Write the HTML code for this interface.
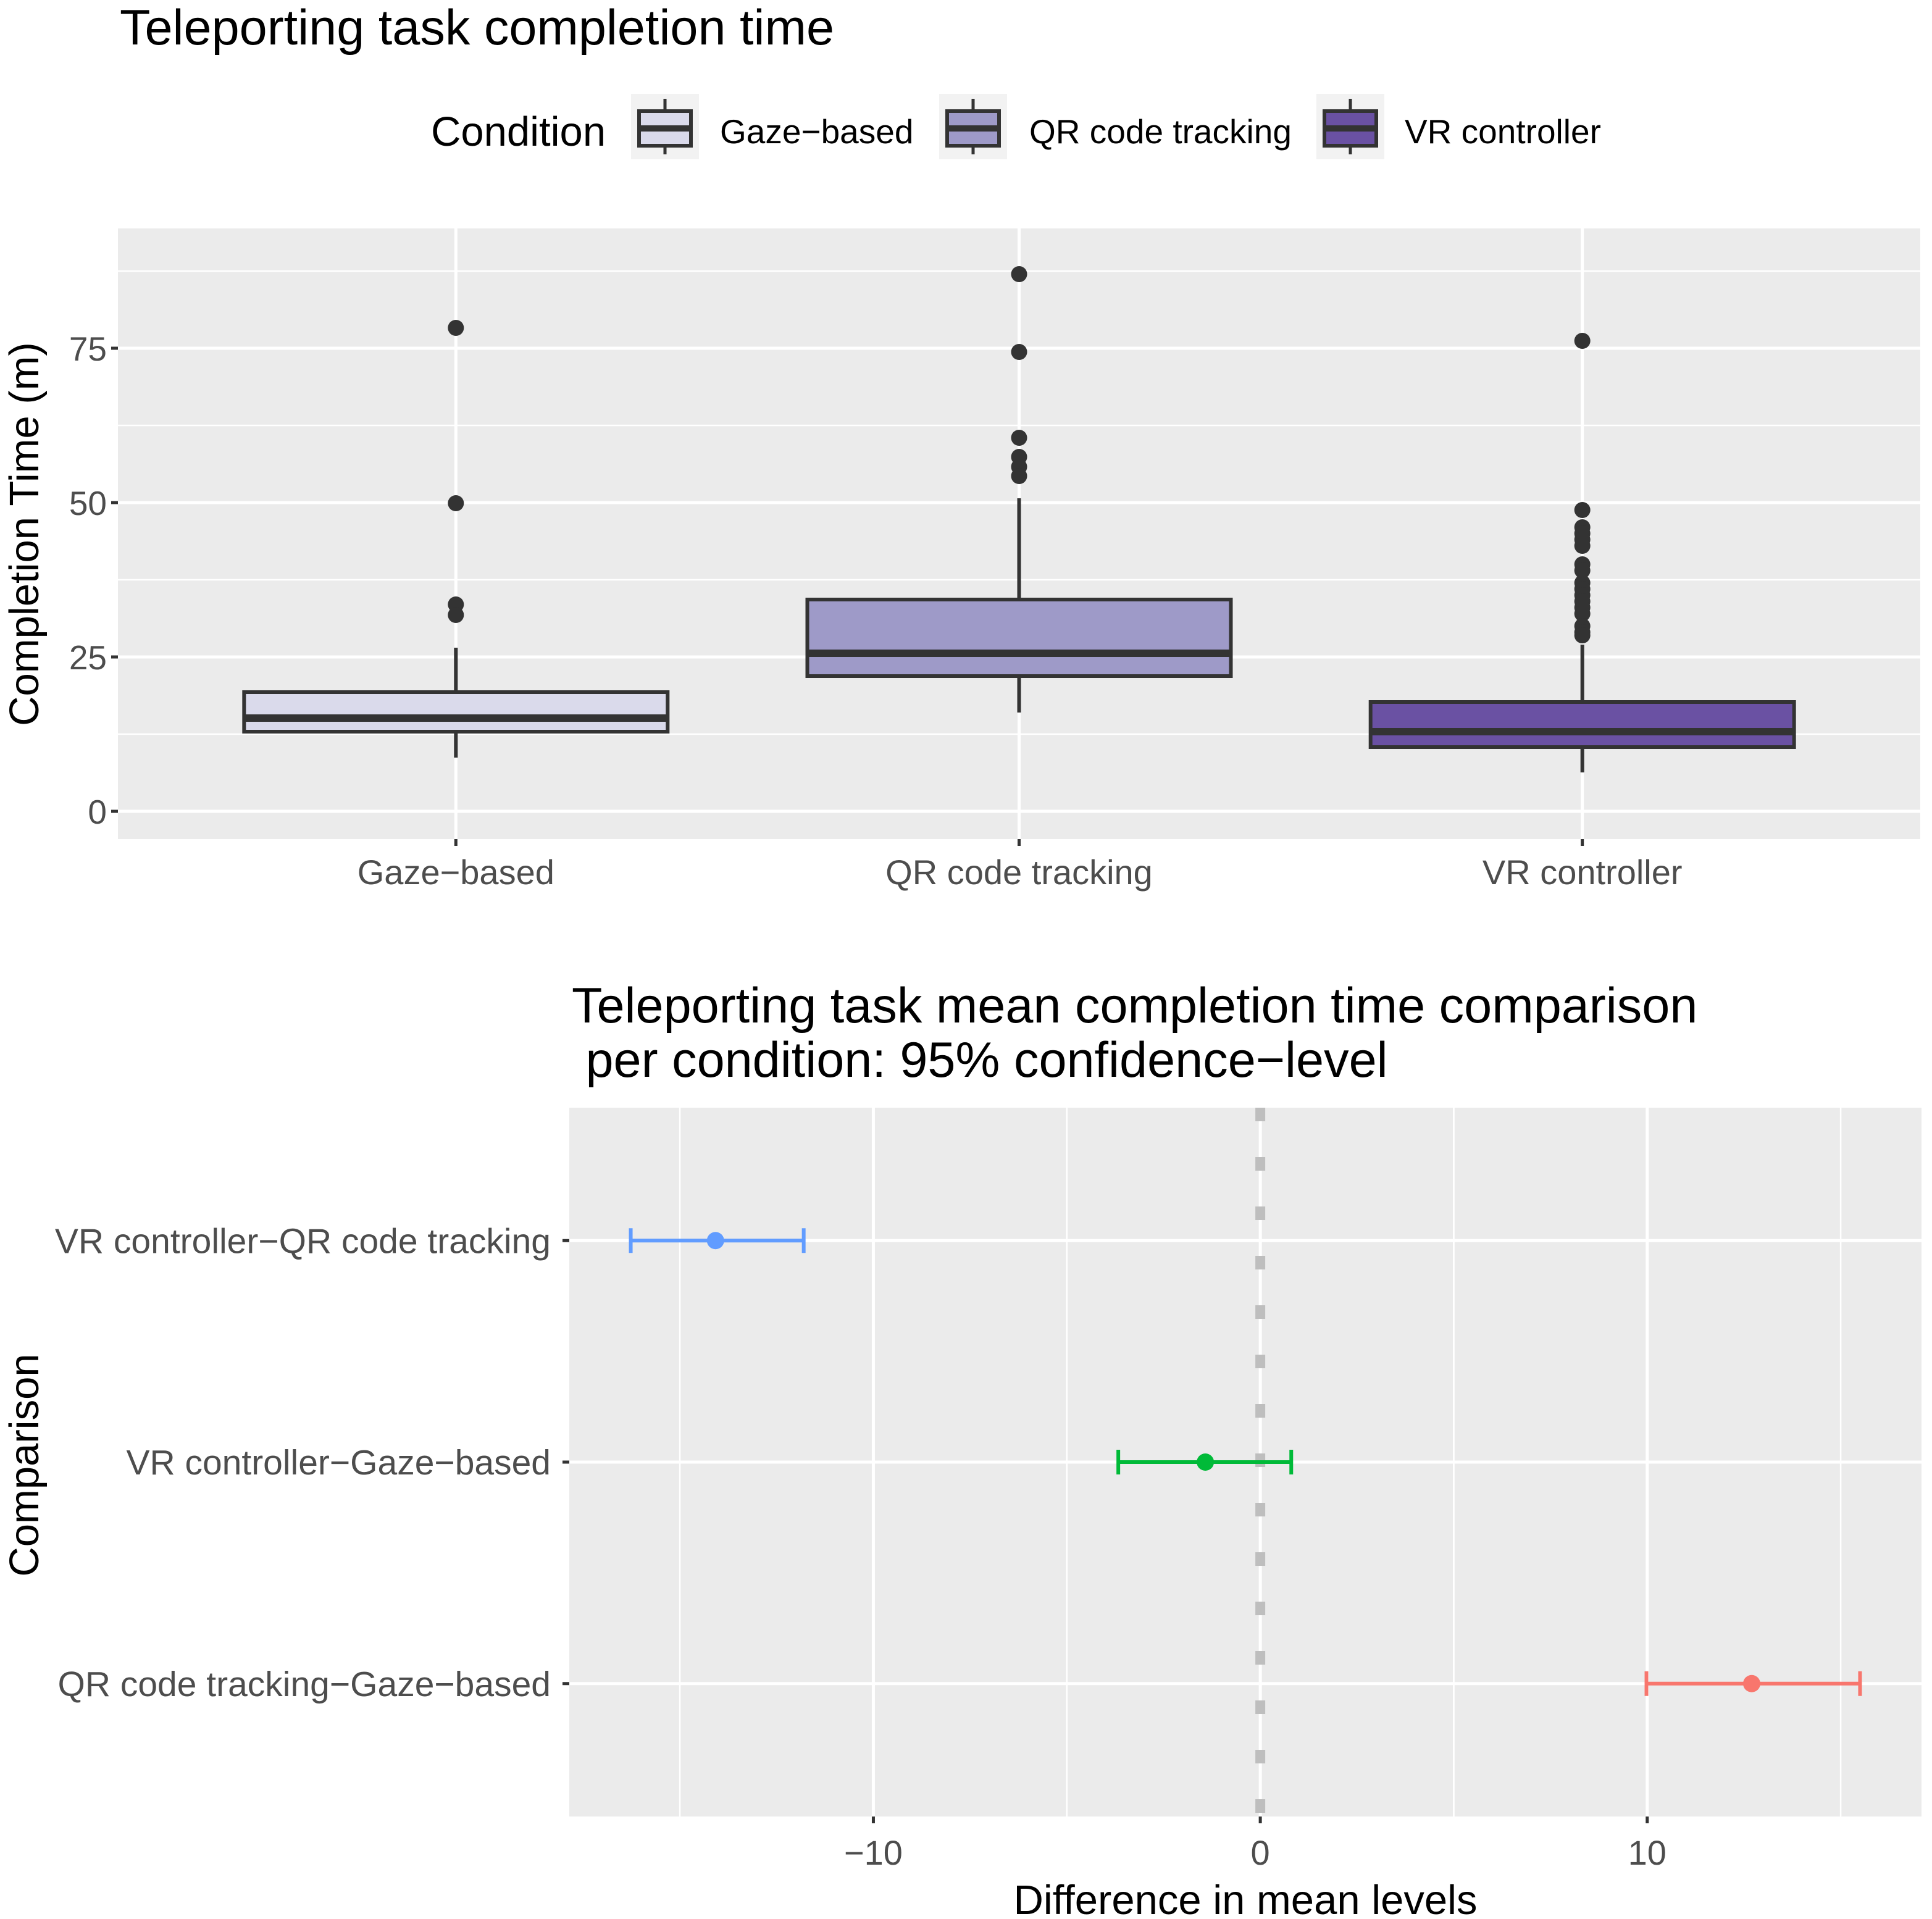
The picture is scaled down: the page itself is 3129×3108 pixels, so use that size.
<!DOCTYPE html>
<html><head><meta charset="utf-8"><style>
html,body{margin:0;padding:0;background:#fff;}
svg{display:block;font-family:"Liberation Sans",Arial,sans-serif;}
</style></head><body>
<svg id="chart" width="3129" height="3108" viewBox="0 0 3129 3108" xmlns="http://www.w3.org/2000/svg">
<text x="194" y="72" font-size="81" fill="#000">Teleporting task completion time</text>
<g>
<text x="698" y="236" font-size="67" fill="#000">Condition</text>
</g>
<g id="topPanel"></g>
<text transform="translate(62,865) rotate(-90)" text-anchor="middle" font-size="67" fill="#000">Completion Time (m)</text>
<text x="926" y="1656" font-size="81" fill="#000">Teleporting task mean completion time comparison</text>
<text x="926" y="1744" font-size="81" fill="#000" xml:space="preserve"> per condition: 95% confidence−level</text>
<g id="botPanel"></g>
<text transform="translate(62,2373) rotate(-90)" text-anchor="middle" font-size="67" fill="#000">Comparison</text>
<text x="2017" y="3100" text-anchor="middle" font-size="67" fill="#000">Difference in mean levels</text>
</svg>
<script>
// ---- top chart data ----
const categories = ["Gaze−based","QR code tracking","VR controller"];
const fills = ["#DADAEB","#9E9AC8","#6A51A3"];
const q1 = [12.9, 21.9, 10.4];
const medians = [15.1, 25.6, 12.9];
const q3 = [19.3, 34.3, 17.7];
const whiskerLow = [8.7, 16.0, 6.3];
const whiskerHigh = [26.5, 50.7, 27.0];
const outliersGaze = [78.3, 49.9, 33.5, 31.8];
const outliersQR = [87.0, 74.4, 60.5, 57.4, 55.8, 54.3];
const outliersVR = [76.2, 48.8, 46, 45, 44, 43, 40, 39, 37, 36, 35, 34, 33, 32, 30, 29, 28.5];
const yTicks = [0, 25, 50, 75];
// ---- bottom chart data ----
const comparisons = ["QR code tracking−Gaze−based","VR controller−Gaze−based","VR controller−QR code tracking"];
const diffs = [12.7, -1.42, -14.08];
const lowers = [9.98, -3.67, -16.27];
const uppers = [15.5, 0.8, -11.8];
const compColors = ["#F8766D","#00BA38","#619CFF"];
const xTicks = [-10, 0, 10];

const NS = "http://www.w3.org/2000/svg";
function mk(parent, tag, attrs){ const e=document.createElementNS(NS,tag); for(const k in attrs) e.setAttribute(k,attrs[k]); parent.appendChild(e); return e; }

// ---- top panel ----
const topG = document.getElementById('topPanel');
const P = {l:191, r:3110, t:370, b:1359};
const yMin=-4.5, yMax=94.4;
const ys = v => P.b - (v - yMin)/(yMax-yMin)*(P.b-P.t);
const step = (P.r-P.l)/(categories.length - 1 + 1.2);
const xs = i => P.l + step*(0.6 + i);
let bg = mk(topG,'rect',{x:P.l,y:P.t,width:P.r-P.l,height:P.b-P.t,fill:'#EBEBEB'});
 
for(let i=0;i<yTicks.length;i++){
  const m = yTicks[i]+12.5;
  if(m<yMax){ let g=mk(topG,'line',{x1:P.l,x2:P.r,y1:ys(m),y2:ys(m),stroke:'#fff','stroke-width':2.5});
      }
}
yTicks.forEach(v=>{
  let g=mk(topG,'line',{x1:P.l,x2:P.r,y1:ys(v),y2:ys(v),stroke:'#fff','stroke-width':5});
   
  let t=mk(topG,'line',{x1:P.l-11,x2:P.l,y1:ys(v),y2:ys(v),stroke:'#333','stroke-width':5});
   
  let l=mk(topG,'text',{x:P.l-18,y:ys(v)+20,'text-anchor':'end','font-size':55,fill:'#4D4D4D'});
  l.textContent=v;
   
});
const outs=[outliersGaze,outliersQR,outliersVR];
categories.forEach((c,i)=>{
  const x=xs(i);
  let g=mk(topG,'line',{x1:x,x2:x,y1:P.t,y2:P.b,stroke:'#fff','stroke-width':5});
   
  let t=mk(topG,'line',{x1:x,x2:x,y1:P.b,y2:P.b+11,stroke:'#333','stroke-width':5});
   
  let l=mk(topG,'text',{x:x,y:1432,'text-anchor':'middle','font-size':56,fill:'#4D4D4D'});
  l.textContent=c;
   
});
categories.forEach((c,i)=>{
  const x=xs(i), hw=step*0.376;
  let w1=mk(topG,'line',{x1:x,x2:x,y1:ys(q3[i]),y2:ys(whiskerHigh[i]),stroke:'#333','stroke-width':6});
   
  let w2=mk(topG,'line',{x1:x,x2:x,y1:ys(q1[i]),y2:ys(whiskerLow[i]),stroke:'#333','stroke-width':6});
   
  let b=mk(topG,'rect',{x:x-hw,y:ys(q3[i]),width:2*hw,height:ys(q1[i])-ys(q3[i]),fill:fills[i],stroke:'#333','stroke-width':6});
   
  let m=mk(topG,'line',{x1:x-hw,x2:x+hw,y1:ys(medians[i]),y2:ys(medians[i]),stroke:'#333','stroke-width':12});
   
  outs[i].forEach(v=>{
    let p=mk(topG,'circle',{cx:x,cy:ys(v),r:13,fill:'#333'});
     
  });
});
// legend keys
const svgRoot=document.getElementById('chart');
const keyX=[1022,1521,2132], labX=[1166,1667,2275];
categories.forEach((c,i)=>{
  const kx=keyX[i];
  let kb=mk(svgRoot,'rect',{x:kx,y:152,width:110,height:106,fill:'#F2F2F2'});
   
  let kl=mk(svgRoot,'line',{x1:kx+55,x2:kx+55,y1:160,y2:250,stroke:'#333','stroke-width':5});
   
  let kr=mk(svgRoot,'rect',{x:kx+13,y:180,width:84,height:56,fill:fills[i],stroke:'#333','stroke-width':6});
   
  let km=mk(svgRoot,'line',{x1:kx+13,x2:kx+97,y1:208,y2:208,stroke:'#333','stroke-width':10});
   
  let t=mk(svgRoot,'text',{x:labX[i],y:232,'font-size':55,fill:'#000'});
  t.textContent=c;
   
});

// ---- bottom panel ----
const botG=document.getElementById('botPanel');
const Q={l:922,r:3112,t:1794,b:2942};
const dMin=Math.min(...lowers), dMax=Math.max(...uppers), pad=(dMax-dMin)*0.05;
const xl=dMin-pad, xr=dMax+pad;
const xb=v=>Q.l+(v-xl)/(xr-xl)*(Q.r-Q.l);
const rowH=(Q.b-Q.t)/(comparisons.length-1+1.2);
const yb=i=>Q.b-rowH*(0.6+i);
let bg2=mk(botG,'rect',{x:Q.l,y:Q.t,width:Q.r-Q.l,height:Q.b-Q.t,fill:'#EBEBEB'});
 
xTicks.forEach(v=>{
  [v-5,v+5].forEach(m=>{ if(m>xl&&m<xr&&xTicks.indexOf(m)<0){
    let g=mk(botG,'line',{x1:xb(m),x2:xb(m),y1:Q.t,y2:Q.b,stroke:'#fff','stroke-width':2.5});
      }});
});
xTicks.forEach(v=>{
  let g=mk(botG,'line',{x1:xb(v),x2:xb(v),y1:Q.t,y2:Q.b,stroke:'#fff','stroke-width':5});
   
  let t=mk(botG,'line',{x1:xb(v),x2:xb(v),y1:Q.b,y2:Q.b+11,stroke:'#333','stroke-width':5});
   
  let l=mk(botG,'text',{x:xb(v),y:3020,'text-anchor':'middle','font-size':56,fill:'#4D4D4D'});
  l.textContent=v<0?'−'+Math.abs(v):String(v);
   
});
comparisons.forEach((c,i)=>{
  let g=mk(botG,'line',{x1:Q.l,x2:Q.r,y1:yb(i),y2:yb(i),stroke:'#fff','stroke-width':5});
   
  let t=mk(botG,'line',{x1:Q.l-11,x2:Q.l,y1:yb(i),y2:yb(i),stroke:'#333','stroke-width':5});
   
  let l=mk(botG,'text',{x:Q.l-30,y:yb(i)+20,'text-anchor':'end','font-size':57,fill:'#4D4D4D'});
  l.textContent=c;
   
});
let zl=mk(botG,'line',{x1:xb(0),x2:xb(0),y1:Q.t,y2:Q.b,stroke:'#BEBEBE','stroke-width':16,'stroke-dasharray':'22 58'});
 
comparisons.forEach((c,i)=>{
  const y=yb(i), col=compColors[i];
  let e=mk(botG,'line',{x1:xb(lowers[i]),x2:xb(uppers[i]),y1:y,y2:y,stroke:col,'stroke-width':6});
   
  let c1=mk(botG,'line',{x1:xb(lowers[i]),x2:xb(lowers[i]),y1:y-20,y2:y+20,stroke:col,'stroke-width':6});
   
  let c2=mk(botG,'line',{x1:xb(uppers[i]),x2:xb(uppers[i]),y1:y-20,y2:y+20,stroke:col,'stroke-width':6});
   
  let p=mk(botG,'circle',{cx:xb(diffs[i]),cy:y,r:14,fill:col});
   
});
</script>
</body></html>
